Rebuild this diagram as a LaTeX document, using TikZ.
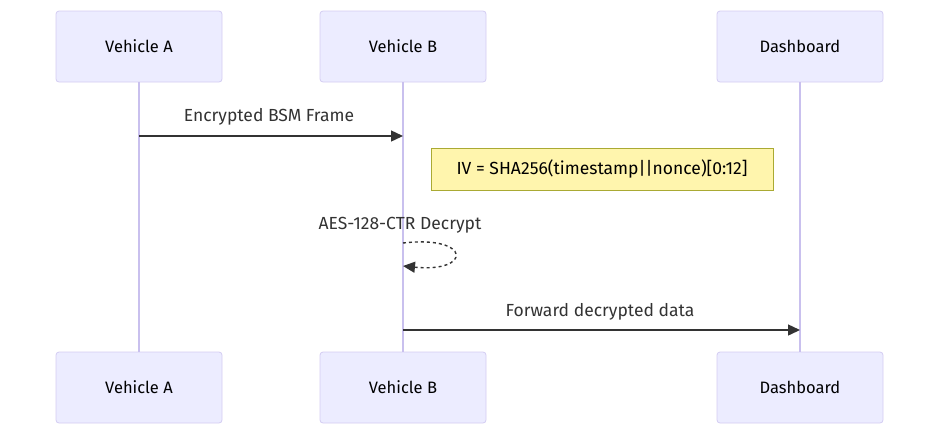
\documentclass[tikz,border=0pt]{standalone}
\usepackage{fontspec}
\setmainfont{Fira Sans}
\usetikzlibrary{arrows.meta}
\definecolor{actfill}{HTML}{ECECFF}
\definecolor{actdraw}{HTML}{D4CCF2}
\definecolor{lifec}{HTML}{C9C0EE}
\definecolor{notefill}{HTML}{FFF5AD}
\definecolor{notedraw}{HTML}{AAAA33}
\definecolor{ink}{HTML}{333333}
\tikzset{
  actor/.style={draw=actdraw, fill=actfill, rounded corners=3pt, minimum width=166pt, minimum height=71pt, inner sep=0pt, font=\fontsize{16.5}{19}\selectfont, text=black, line width=0.8pt},
  life/.style={draw=lifec, line width=1.3pt},
  msg/.style={draw=ink, line width=1.4pt, -{Triangle[length=12pt,width=11pt]}},
  lbl/.style={font=\fontsize{17.5}{20}\selectfont, text=ink, inner sep=0pt},
  note/.style={draw=notedraw, fill=notefill, minimum width=342pt, minimum height=42pt, inner sep=0pt, font=\fontsize{17.5}{20}\selectfont, text=black, line width=0.8pt}
}
\begin{document}
\begin{tikzpicture}[x=1pt,y=-1pt]
\useasboundingbox (0,0) rectangle (939,437);
\node[actor] (at) at (139,46.5) {Vehicle A};
\node[actor] (bt) at (403,46.5) {Vehicle B};
\node[actor] (dt) at (800,46.5) {Dashboard};
\node[actor] (ab) at (139,387.5) {Vehicle A};
\node[actor] (bb) at (403,387.5) {Vehicle B};
\node[actor] (db) at (800,387.5) {Dashboard};
\draw[life] (at.south) -- (ab.north);
\draw[life] (bt.south) -- (bb.north);
\draw[life] (dt.south) -- (db.north);
\coordinate (m1s) at (139,136);
\coordinate (m1e) at (403,136);
\draw[msg] (m1s) -- (m1e);
\node[lbl] (l1) at (269,116.5) {Encrypted BSM Frame};
\node[note] (n1) at (602,169) {IV = SHA256(timestamp||nonce)[0:12]};
\node[lbl] (l2) at (400,225) {AES-128-CTR Decrypt};
\coordinate (m2s) at (403,243);
\coordinate (m2e) at (403,266);
\draw[msg, dashed, dash pattern=on 3pt off 3pt] (m2s) .. controls (472,235) and (472,273) .. (m2e);
\coordinate (m3s) at (403,330);
\coordinate (m3e) at (800,330);
\draw[msg] (m3s) -- (m3e);
\node[lbl] (l3) at (600,311.5) {Forward decrypted data};
\end{tikzpicture}
\end{document}
